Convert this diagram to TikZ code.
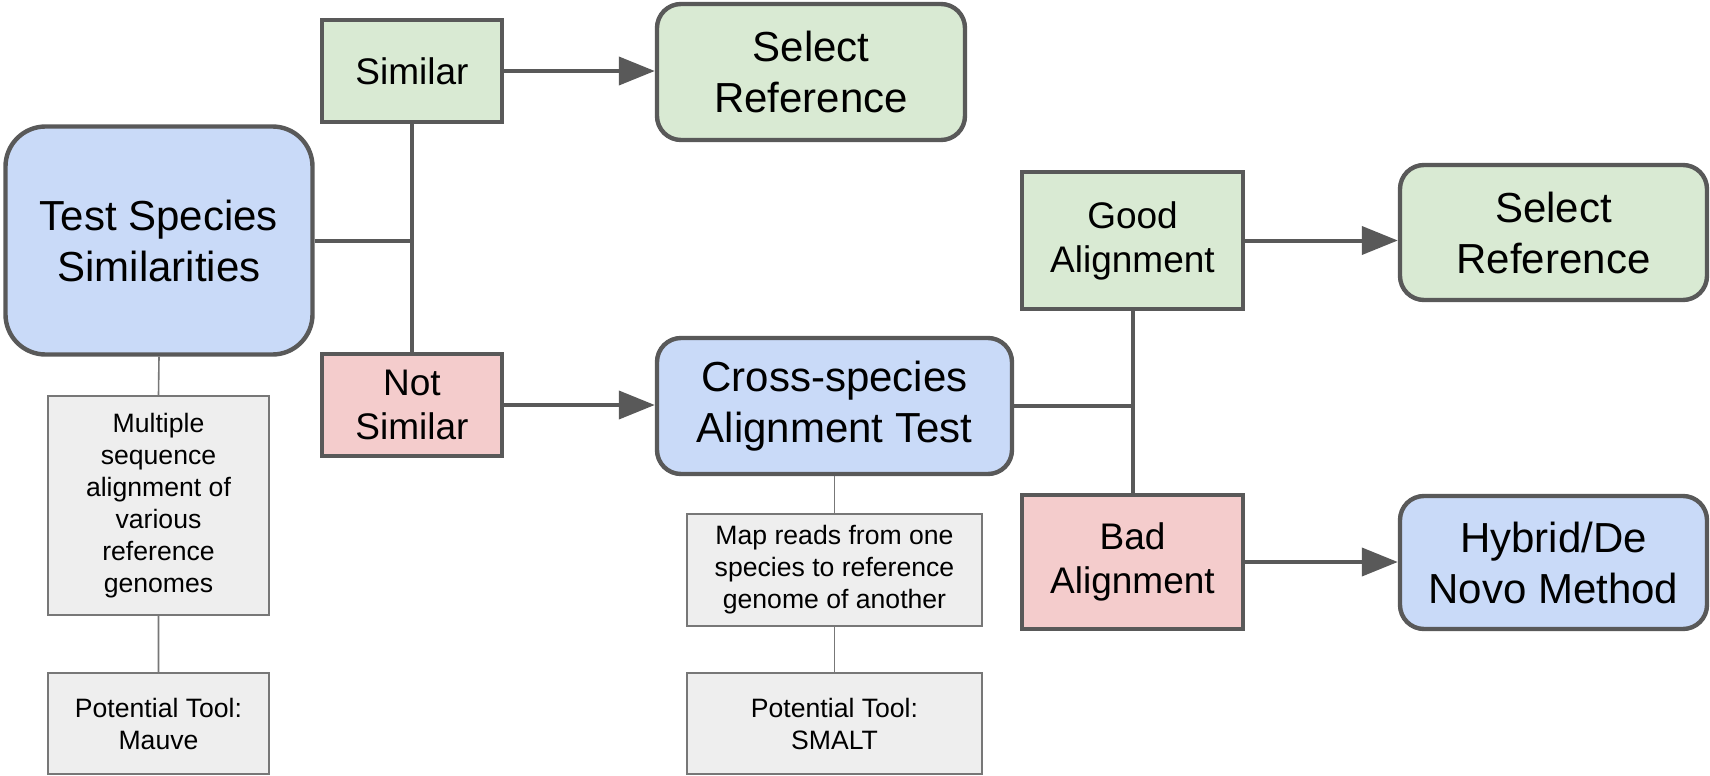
\documentclass[tikz,border=0pt]{standalone}
\usepackage{fontspec}
\setmainfont{Liberation Sans}
\usetikzlibrary{arrows.meta}
\definecolor{boxblue}{HTML}{C9DAF8}
\definecolor{boxgreen}{HTML}{D9EAD3}
\definecolor{boxred}{HTML}{F4CCCC}
\definecolor{boxgrey}{HTML}{EEEEEE}
\definecolor{linegrey}{HTML}{595959}
\definecolor{notegrey}{HTML}{777777}

\begin{document}
\begin{tikzpicture}[x=0.5pt, y=-0.5pt,
		bigbox/.style = {draw=linegrey, line width=2.2pt, rounded corners=12pt, align=center, inner sep=0pt, font=\fontsize{21}{25.5}\selectfont},
		midbox/.style = {draw=linegrey, line width=2.4pt, align=center, inner sep=0pt, font=\fontsize{18.5}{22}\selectfont},
		notebox/.style = {draw=notegrey, line width=0.9pt, fill=boxgrey, align=center, inner sep=0pt, minimum width=110.5pt, font=\fontsize{13.3}{16}\selectfont},
		link/.style = {draw=linegrey, line width=2pt},
		tieline/.style = {draw=notegrey, line width=0.8pt},
		arr/.style = {link, -{Triangle[length=18pt, width=14pt]}}]
	\useasboundingbox (0,0) rectangle (1710,776);

	\node[bigbox, fill=boxblue, rounded corners=20pt, minimum width=153.5pt, minimum height=114pt] (test) at (159,240.5) {Test Species\\Similarities};
	\node[midbox, fill=boxgreen, minimum width=90pt, minimum height=51pt] (sim) at (412,71) {Similar};
	\node[midbox, fill=boxred, minimum width=90pt, minimum height=51pt] (notsim) at (412,405) {Not\\Similar};
	\node[bigbox, fill=boxgreen, minimum width=154pt, minimum height=68pt] (sel1) at (811,72) {Select\\Reference};
	\node[bigbox, fill=boxblue, minimum width=177.5pt, minimum height=68pt] (cross) at (834.5,406) {Cross-species\\Alignment Test};

	\node[midbox, fill=boxgreen, minimum width=110.5pt, minimum height=68.5pt] (good) at (1132.5,240.5) {Good\\Alignment};
	\node[midbox, fill=boxred, minimum width=110.5pt, minimum height=67pt] (bad) at (1132.5,562) {Bad\\Alignment};
	\node[bigbox, fill=boxgreen, minimum width=153.5pt, minimum height=67.5pt] (sel2) at (1553.5,232.5) {Select\\Reference};
	\node[bigbox, fill=boxblue, minimum width=153.5pt, minimum height=66.5pt] (hybrid) at (1553.5,562.5) {Hybrid/De\\Novo Method};

	\node[notebox, minimum height=109.5pt] (msa) at (158.5,505.5) {Multiple\\sequence\\alignment of\\various\\reference\\genomes};
	\node[notebox, minimum height=50.5pt] (mauve) at (158.5,723.5) {Potential Tool:\\Mauve};
	\node[notebox, minimum width=147.5pt, minimum height=56pt] (map) at (834.5,570) {Map reads from one\\species to reference\\genome of another};
	\node[notebox, minimum width=147.5pt, minimum height=50.5pt] (smalt) at (834.5,723.5) {Potential Tool:\\SMALT};

	\path[link] (test.east) -- (test.east -| sim.south)
		(sim.south) -- (notsim.north);
	\path[link] (cross.east) -- (cross.east -| good.south)
		(good.south) -- (bad.north);

	\path[arr] (sim.east) -- (sim.east -| sel1.west);
	\path[arr] (notsim.east) -- (notsim.east -| cross.west);
	\path[arr] (good.east) -- (good.east -| sel2.west);
	\path[arr] (bad.east) -- (bad.east -| hybrid.west);

	\path[tieline] (test.south) -- (msa.north)
		(msa.south) -- (mauve.north);
	\path[tieline] (cross.south) -- (map.north)
		(map.south) -- (smalt.north);
\end{tikzpicture}
\end{document}
